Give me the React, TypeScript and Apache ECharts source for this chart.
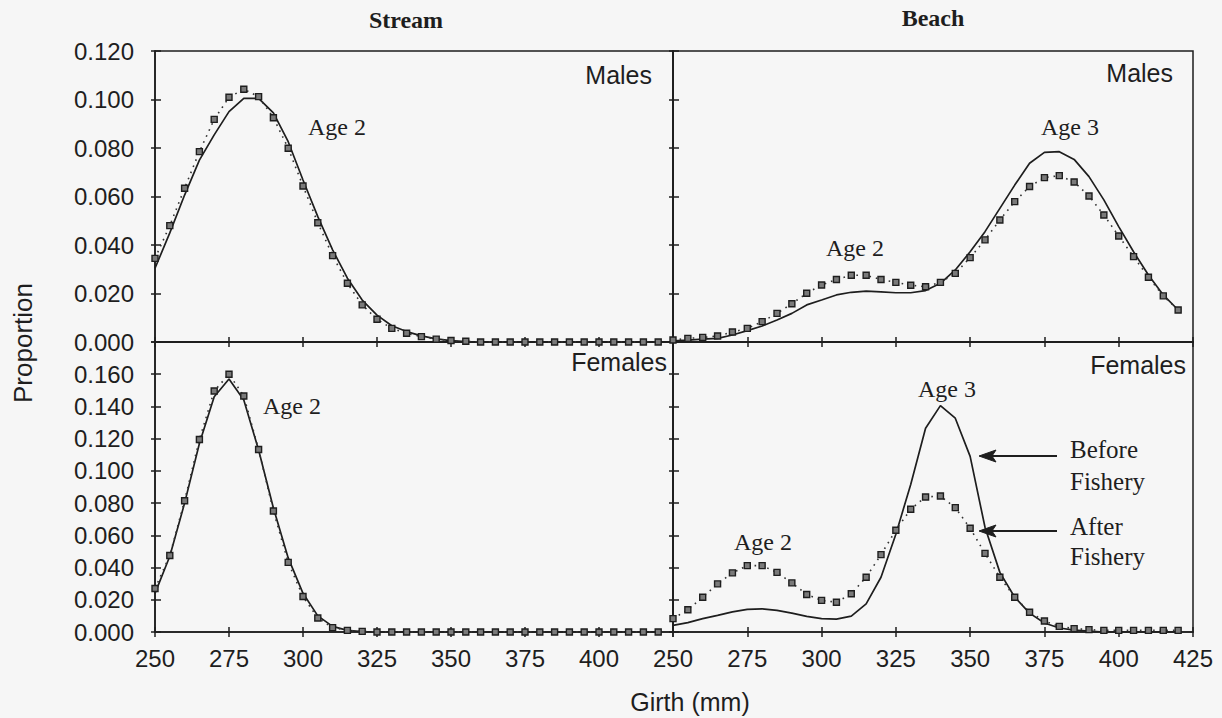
import React, { useEffect, useRef } from "react";
import * as echarts from "echarts";

// Girth bins (mm)
const girth = [
  250, 255, 260, 265, 270, 275, 280, 285, 290, 295, 300, 305, 310, 315, 320, 325, 330, 335,
  340, 345, 350, 355, 360, 365, 370, 375, 380, 385, 390, 395, 400, 405, 410, 415, 420,
];

const xTicks = [250, 275, 300, 325, 350, 375, 400, 425];

// Stream, males
const streamMalesBefore = [
  0.0304, 0.045, 0.0606, 0.075, 0.0854, 0.095, 0.1005, 0.1005, 0.0945, 0.0826, 0.0668, 0.0517,
  0.038, 0.0263, 0.0173, 0.0111, 0.0067, 0.0043, 0.0025, 0.0013, 0.0006, 0.0002, 0, 0, 0, 0, 0,
  0, 0, 0, 0, 0, 0, 0, 0,
];
const streamMalesAfter = [
  0.0345, 0.048, 0.0634, 0.0785, 0.0918, 0.1009, 0.1042, 0.1012, 0.0925, 0.0799, 0.0643, 0.0492,
  0.0356, 0.0242, 0.0153, 0.0094, 0.0056, 0.0036, 0.0022, 0.0012, 0.0006, 0.0003, 0, 0, 0, 0, 0,
  0, 0, 0, 0, 0, 0, 0, 0,
];

// Beach, males
const beachMalesBefore = [
  0.0005, 0.0008, 0.0012, 0.0015, 0.0029, 0.0047, 0.0066, 0.0091, 0.0118, 0.0153, 0.0173,
  0.0194, 0.0205, 0.021, 0.0207, 0.0203, 0.0203, 0.0212, 0.0242, 0.0297, 0.0372, 0.0455, 0.0551,
  0.0647, 0.0737, 0.0782, 0.0785, 0.0753, 0.0682, 0.0586, 0.0476, 0.0372, 0.0276, 0.0194, 0.0132,
];
const beachMalesAfter = [
  0.0008, 0.0015, 0.0019, 0.0025, 0.0041, 0.0056, 0.0084, 0.0118, 0.0158, 0.0201, 0.0235,
  0.0258, 0.0275, 0.0275, 0.0258, 0.0246, 0.0234, 0.0228, 0.0246, 0.0283, 0.0348, 0.0421, 0.0503,
  0.0579, 0.0641, 0.0678, 0.0686, 0.066, 0.0602, 0.0524, 0.0437, 0.0352, 0.0267, 0.019, 0.0132,
];

// Stream, females
const streamFemalesBefore = [
  0.024, 0.047, 0.08, 0.117, 0.146, 0.157, 0.144, 0.113, 0.077, 0.046, 0.024, 0.01, 0.0035,
  0.001, 0.0003, 0, 0, 0, 0, 0, 0, 0, 0, 0, 0, 0, 0, 0, 0, 0, 0, 0, 0, 0, 0,
];
const streamFemalesAfter = [
  0.027, 0.0475, 0.0815, 0.1195, 0.1496, 0.16, 0.1465, 0.1133, 0.0751, 0.0432, 0.022, 0.0087,
  0.0027, 0.001, 0.0004, 0, 0, 0, 0, 0, 0, 0, 0, 0, 0, 0, 0, 0, 0, 0, 0, 0, 0, 0, 0,
];

// Beach, females
const beachFemalesBefore = [
  0.0041, 0.0058, 0.0083, 0.0103, 0.0125, 0.014, 0.0144, 0.0134, 0.0117, 0.0097, 0.0083, 0.008,
  0.0099, 0.0175, 0.034, 0.0607, 0.0916, 0.1265, 0.1405, 0.1327, 0.109, 0.065, 0.037, 0.0216,
  0.0117, 0.0056, 0.0025, 0.0012, 0.0005, 0, 0, 0, 0, 0, 0,
];
const beachFemalesAfter = [
  0.0083, 0.0138, 0.0216, 0.0299, 0.0367, 0.0412, 0.0412, 0.037, 0.0305, 0.0233, 0.0196, 0.0185,
  0.0237, 0.034, 0.048, 0.0632, 0.0762, 0.0838, 0.0844, 0.0772, 0.0644, 0.0488, 0.034, 0.0216,
  0.0123, 0.0068, 0.0035, 0.0021, 0.0015, 0.001, 0.001, 0.001, 0.001, 0.001, 0.001,
];

const INK = "#1e1e1e";
const SANS = "Liberation Sans";
const SERIF = "Liberation Serif";

type Panel = {
  before: number[];
  after: number[];
  yMax: number;
  yLabels: boolean;
  xLabels: boolean;
  hideLastX: boolean;
  bottomWidth: number;
};

// TL, TR, BL, BR
const panels: Panel[] = [
  { before: streamMalesBefore, after: streamMalesAfter, yMax: 0.12, yLabels: true, xLabels: false, hideLastX: false, bottomWidth: 2.2 },
  { before: beachMalesBefore, after: beachMalesAfter, yMax: 0.12, yLabels: false, xLabels: false, hideLastX: false, bottomWidth: 2.2 },
  { before: streamFemalesBefore, after: streamFemalesAfter, yMax: 0.18, yLabels: true, xLabels: true, hideLastX: true, bottomWidth: 1.6 },
  { before: beachFemalesBefore, after: beachFemalesAfter, yMax: 0.18, yLabels: false, xLabels: true, hideLastX: false, bottomWidth: 1.6 },
];

const gridBoxes = [
  { left: 155, top: 51, width: 518, height: 291 },
  { left: 673, top: 51, width: 520, height: 291 },
  { left: 155, top: 342, width: 518, height: 290 },
  { left: 673, top: 342, width: 520, height: 290 },
];

function buildOption() {
  const grid = gridBoxes.map((b) => ({
    ...b,
    show: true,
    borderColor: INK,
    borderWidth: 1.5,
    backgroundColor: "transparent",
    containLabel: false,
  }));

  const xAxis: any[] = [];
  const yAxis: any[] = [];
  panels.forEach((p, i) => {
    // main x axis: line, inner ticks, labels
    xAxis.push({
      gridIndex: i,
      type: "value",
      min: 250,
      max: 425,
      interval: 25,
      position: "bottom",
      axisLine: { show: true, lineStyle: { color: INK, width: p.bottomWidth } },
      axisTick: { show: true, inside: true, length: 5, lineStyle: { color: INK, width: 1.5 } },
      axisLabel: {
        show: p.xLabels,
        showMaxLabel: !p.hideLastX,
        showMinLabel: true,
        margin: 14,
        color: INK,
        fontFamily: SANS,
        fontSize: 24,
        formatter: (v: number) => (xTicks.includes(v) ? String(v) : ""),
      },
      splitLine: { show: false },
    });
    // companion x axis: outer half of each tick
    xAxis.push({
      gridIndex: i,
      type: "value",
      min: 250,
      max: 425,
      interval: 25,
      position: "bottom",
      axisLine: { show: false },
      axisTick: { show: true, inside: false, length: 5, lineStyle: { color: INK, width: 1.5 } },
      axisLabel: { show: false },
      splitLine: { show: false },
    });
    yAxis.push({
      gridIndex: i,
      type: "value",
      min: 0,
      max: p.yMax,
      interval: 0.02,
      position: "left",
      axisLine: { show: true, lineStyle: { color: INK, width: 1.6 } },
      axisTick: { show: true, inside: true, length: 6, lineStyle: { color: INK, width: 1.5 } },
      axisLabel: {
        show: p.yLabels,
        showMaxLabel: p.yMax < 0.15,
        margin: 21,
        color: INK,
        fontFamily: SANS,
        fontSize: 24,
        formatter: (v: number) => v.toFixed(3),
      },
      splitLine: { show: false },
    });
    yAxis.push({
      gridIndex: i,
      type: "value",
      min: 0,
      max: p.yMax,
      interval: 0.02,
      position: "left",
      axisLine: { show: false },
      axisTick: { show: true, inside: false, length: 4, lineStyle: { color: INK, width: 1.5 } },
      axisLabel: { show: false },
      splitLine: { show: false },
    });
  });

  const series: any[] = [];
  panels.forEach((p, i) => {
    series.push({
      name: "Before Fishery",
      type: "line",
      xAxisIndex: i * 2,
      yAxisIndex: i * 2,
      data: girth.map((g, k) => [g, p.before[k]]),
      symbol: "none",
      lineStyle: { color: INK, width: 1.7 },
      z: 2,
    });
    series.push({
      name: "After Fishery",
      type: "line",
      xAxisIndex: i * 2,
      yAxisIndex: i * 2,
      data: girth.map((g, k) => [g, p.after[k]]),
      symbol: "rect",
      symbolSize: 6,
      showAllSymbol: true,
      lineStyle: { color: "#333", width: 1.6, type: [1.6, 5] },
      itemStyle: { color: "#7a7a7a", borderColor: "#1e1e1e", borderWidth: 1.4 },
      z: 3,
    });
  });

  const txt = (
    text: string,
    x: number,
    y: number,
    family: string,
    size: number,
    weight: string = "normal",
    align: string = "center",
    extra: any = {}
  ) => ({
    type: "text",
    x,
    y,
    ...extra,
    style: {
      text,
      x: 0,
      y: 0,
      fontFamily: family,
      fontSize: size,
      fontWeight: weight,
      fill: INK,
      align,
      verticalAlign: "middle",
      textAlign: align,
      textVerticalAlign: "middle",
    },
    z: 10,
  });

  const arrow = (y: number) => [
    {
      type: "line",
      shape: { x1: 1057, y1: y, x2: 990, y2: y },
      style: { stroke: INK, lineWidth: 2 },
      z: 10,
    },
    {
      type: "polygon",
      shape: { points: [[979, y], [996, y - 6], [992, y], [996, y + 6]] },
      style: { fill: INK, stroke: INK, lineWidth: 1 },
      z: 10,
    },
  ];

  const graphic: any[] = [
    txt("Stream", 406, 20, SERIF, 24, "bold"),
    txt("Beach", 933, 18, SERIF, 24, "bold"),
    txt("Males", 652, 75, SANS, 25, "normal", "right"),
    txt("Males", 1173, 73, SANS, 25, "normal", "right"),
    txt("Females", 667, 362, SANS, 25, "normal", "right"),
    txt("Females", 1186, 365, SANS, 25, "normal", "right"),
    txt("Age 2", 337, 127, SERIF, 24),
    txt("Age 3", 1070, 127, SERIF, 24),
    txt("Age 2", 855, 248, SERIF, 24),
    txt("Age 2", 292, 406, SERIF, 24),
    txt("Age 3", 947, 389, SERIF, 24),
    txt("Age 2", 763, 542, SERIF, 24),
    txt("Before", 1070, 449, SERIF, 25, "normal", "left"),
    txt("Fishery", 1070, 481, SERIF, 25, "normal", "left"),
    txt("After", 1070, 526, SERIF, 25, "normal", "left"),
    txt("Fishery", 1070, 556, SERIF, 25, "normal", "left"),
    txt("Proportion", 23, 343, SANS, 26, "normal", "center", { rotation: Math.PI / 2 }),
    txt("Girth (mm)", 690, 702, SANS, 25),
    ...arrow(456),
    ...arrow(531),
  ];

  return {
    animation: false,
    backgroundColor: "#f6f6f6",
    grid,
    xAxis,
    yAxis,
    series,
    graphic,
  };
}

export default function App() {
  const ref = useRef<HTMLDivElement>(null);
  useEffect(() => {
    if (!ref.current) return;
    const chart = echarts.init(ref.current, undefined, { renderer: "svg" });
    chart.setOption(buildOption() as any);
    return () => chart.dispose();
  }, []);
  return (
    <div
      ref={ref}
      style={{ position: "absolute", left: 0, top: 0, width: 1222, height: 718 }}
    />
  );
}
